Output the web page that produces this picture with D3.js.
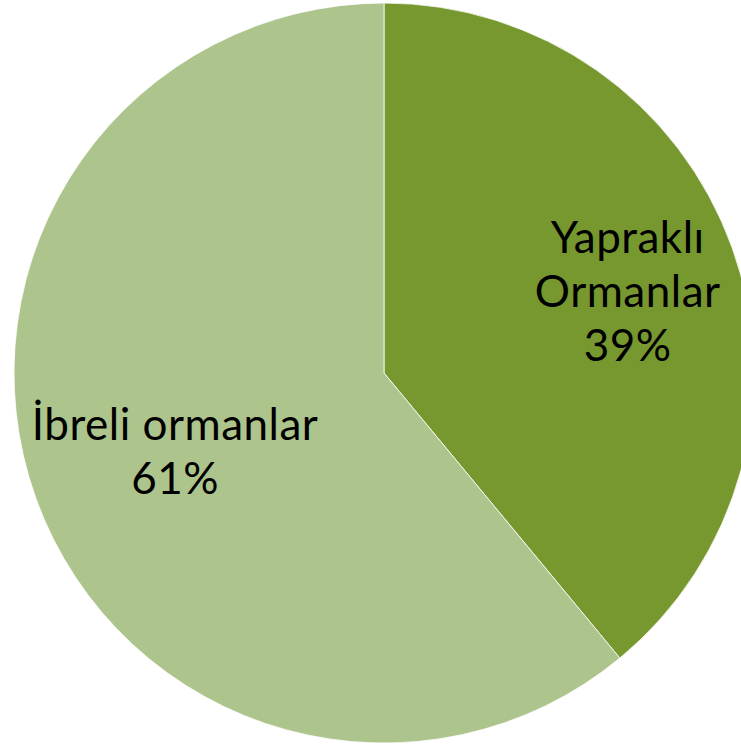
<!DOCTYPE html>
<html>
<head>
<meta charset="utf-8">
<script src="https://cdn.jsdelivr.net/npm/d3@7"></script>
<style>
  html, body { margin: 0; padding: 0; background: #fff; }
</style>
</head>
<body>
<div id="pieChart"></div>
<script>
const categories = ["Yapraklı Ormanlar", "İbreli ormanlar"];
const labelLines = [["Yapraklı", "Ormanlar"], ["İbreli ormanlar"]];
const shares = [39, 61];
const sliceColors = ["#77972f", "#adc48c"];

const width = 741, height = 746;
const cx = 384, cy = 373, radius = 370;

const pieData = categories.map((c, i) => ({ name: c, lines: labelLines[i], value: shares[i] }));
const total = d3.sum(pieData, d => d.value);

const pie = d3.pie().value(d => d.value).sort(null);
const arc = d3.arc().innerRadius(0).outerRadius(radius);

const color = d3.scaleOrdinal()
  .domain(categories)
  .range(sliceColors);

const svg = d3.select("#pieChart")
  .append("svg")
  .attr("width", width)
  .attr("height", height);

const chartGroup = svg.append("g")
  .attr("transform", `translate(${cx}, ${cy})`);

// slices
chartGroup.selectAll("path")
  .data(pie(pieData))
  .join("path")
  .attr("d", arc)
  .attr("fill", d => color(d.data.name))
  .attr("stroke", "#fff")
  .attr("stroke-width", 0.8);

// labels (best-fit placement, a bit further out for the smaller slice)
const labelFactor = d => d.index === 0 ? 0.70 : 0.60;
const lineHeight = 54;

const labels = chartGroup.selectAll("text")
  .data(pie(pieData))
  .join("text")
  .attr("transform", d => {
    const r = radius * labelFactor(d);
    const a = d3.arc().innerRadius(r).outerRadius(r);
    const [x, y] = a.centroid(d);
    return `translate(${x}, ${y + (d.index === 0 ? 3 : 0)})`;
  })
  .attr("text-anchor", "middle")
  .style("font-family", "Lato, 'Open Sans', sans-serif")
  .style("font-size", "44px")
  .style("letter-spacing", "0.5px")
  .style("fill", "#000");

labels.each(function (d) {
  const lines = [...d.data.lines, `${Math.round(d.data.value / total * 100)}%`];
  const t = d3.select(this);
  const offset = -(lines.length - 1) / 2 * lineHeight;
  lines.forEach((line, i) => {
    t.append("tspan")
      .attr("x", 0)
      .attr("y", offset + i * lineHeight)
      .attr("dy", "0.42em")
      .text(line);
  });
});
</script>
</body>
</html>
